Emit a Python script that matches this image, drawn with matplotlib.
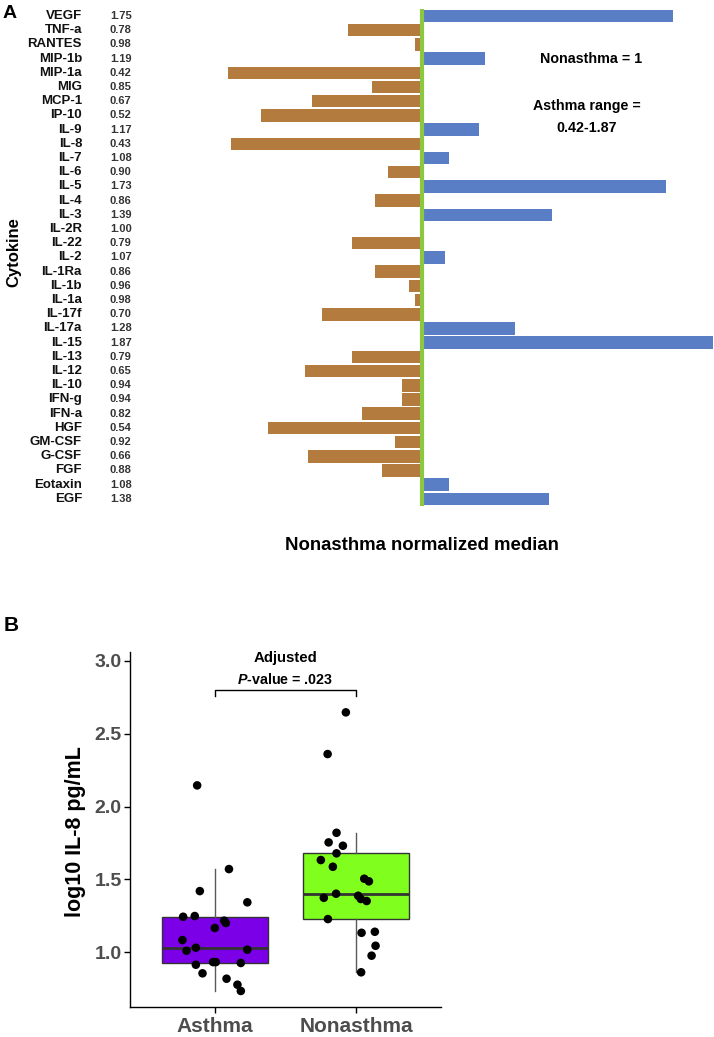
import matplotlib
matplotlib.use('Agg')
import matplotlib.pyplot as plt
import matplotlib.transforms as mtrans
import numpy as np

plt.rcParams['font.family'] = ['Liberation Sans', 'DejaVu Sans']
plt.rcParams['font.weight'] = 'bold'
plt.rcParams['mathtext.fontset'] = 'custom'
plt.rcParams['mathtext.it'] = 'Liberation Sans:italic:bold'
plt.rcParams['mathtext.rm'] = 'Liberation Sans:bold'

# ---- panel A data: asthma / nonasthma normalized medians
cytokines = ['VEGF', 'TNF-a', 'RANTES', 'MIP-1b', 'MIP-1a', 'MIG', 'MCP-1', 'IP-10',
             'IL-9', 'IL-8', 'IL-7', 'IL-6', 'IL-5', 'IL-4', 'IL-3', 'IL-2R', 'IL-22',
             'IL-2', 'IL-1Ra', 'IL-1b', 'IL-1a', 'IL-17f', 'IL-17a', 'IL-15', 'IL-13',
             'IL-12', 'IL-10', 'IFN-g', 'IFN-a', 'HGF', 'GM-CSF', 'G-CSF', 'FGF',
             'Eotaxin', 'EGF']
ratios = [1.75, 0.78, 0.98, 1.19, 0.42, 0.85, 0.67, 0.52, 1.17, 0.43, 1.08, 0.90,
          1.73, 0.86, 1.39, 1.00, 0.79, 1.07, 0.86, 0.96, 0.98, 0.70, 1.28, 1.87,
          0.79, 0.65, 0.94, 0.94, 0.82, 0.54, 0.92, 0.66, 0.88, 1.08, 1.38]

# ---- panel B data: log10 IL-8 (pg/mL), with horizontal jitter
groups = ['Asthma', 'Nonasthma']
asthma = [1.571, 1.42, 1.343, 1.244, 1.249, 1.217, 1.201, 1.167, 1.084, 1.032, 1.011,
          1.018, 0.933, 0.933, 0.915, 0.927, 0.856, 0.819, 0.778, 0.735, 2.145]
asthma_jit = [0.10, -0.106, 0.23, -0.224, -0.142, 0.066, 0.078, 0.0, -0.229, -0.134,
              -0.2, 0.23, -0.012, 0.007, -0.134, 0.184, -0.087, 0.083, 0.16, 0.184, -0.125]
nonasthma = [2.646, 2.36, 1.82, 1.754, 1.731, 1.679, 1.633, 1.587, 1.505, 1.487, 1.374,
             1.402, 1.388, 1.366, 1.352, 1.228, 1.134, 1.141, 1.045, 0.977, 0.863]
nonasthma_jit = [-0.073, -0.202, -0.139, -0.195, -0.094, -0.139, -0.25, -0.165, 0.057,
                 0.09, -0.229, -0.142, 0.014, 0.033, 0.074, -0.2, 0.038, 0.132, 0.137,
                 0.109, 0.035]

W, H = 714, 1037
fig = plt.figure(figsize=(W / 100, H / 100), dpi=100)

def box(l, t, r, b):
    return [l / W, 1 - b / H, (r - l) / W, (b - t) / H]

# ================= panel A =================
axA = fig.add_axes(box(228, 8.9, 712.7, 506))
ypos = np.arange(len(cytokines))
r = np.array(ratios)
cols = ['#5A7EC6' if v > 1 else '#B37B3D' for v in r]
axA.barh(ypos, r - 1, left=1, height=0.88, color=cols, edgecolor='none')
axA.axvline(1, color='#8DC63F', lw=3.0, zorder=3)
axA.set_xlim(0.42, 1.87)
axA.set_ylim(len(cytokines) - 0.5, -0.5)
axA.axis('off')

tr = mtrans.blended_transform_factory(fig.transFigure, axA.transData)
for i, (name, v) in enumerate(zip(cytokines, ratios)):
    axA.text(82 / W, i, name, transform=tr, ha='right', va='center',
             fontsize=9.5, color='#111111', clip_on=False)
    axA.text(110 / W, i, f'{v:.2f}', transform=tr, ha='left', va='center',
             fontsize=8.0, color='#333333', clip_on=False)

fig.text(14 / W, 1 - 252 / H, 'Cytokine', rotation=90, ha='center', va='center',
         fontsize=12)
fig.text(3 / W, 1 - 5 / H, 'A', ha='left', va='top', fontsize=14)
fig.text(421.5 / W, 1 - 546 / H, 'Nonasthma normalized median', ha='center',
         va='center', fontsize=13.4)
fig.text(591 / W, 1 - 59 / H, 'Nonasthma = 1', ha='center', va='center', fontsize=10.3)
fig.text(587 / W, 1 - 106 / H, 'Asthma range =', ha='center', va='center', fontsize=10.3)
fig.text(587 / W, 1 - 127.5 / H, '0.42-1.87', ha='center', va='center', fontsize=10.3)

# ================= panel B =================
axB = fig.add_axes(box(130, 652, 441, 1007))
bp = axB.boxplot([asthma, nonasthma], positions=[1, 2], widths=0.75, whis=1.5,
                 patch_artist=True, showfliers=False, showcaps=False,
                 medianprops=dict(color='#333333', lw=2.0),
                 boxprops=dict(edgecolor='#333333', lw=1.0),
                 whiskerprops=dict(color='#595959', lw=1.0))
for patch, c in zip(bp['boxes'], ['#7B00E8', '#80FF1E']):
    patch.set_facecolor(c)

axB.scatter(1 + np.array(asthma_jit), asthma, s=38, color='black', zorder=4,
            edgecolors='none')
axB.scatter(2 + np.array(nonasthma_jit), nonasthma, s=38, color='black', zorder=4,
            edgecolors='none')

# significance bracket
axB.plot([1, 1, 2, 2], [2.755, 2.8, 2.8, 2.755], color='black', lw=1.0)
axB.text(1.5, 3.02, 'Adjusted', ha='center', va='center', fontsize=10.8)
axB.text(1.5, 2.868, '$P$-value = .023', ha='center', va='center', fontsize=10.3)

axB.set_xlim(0.4, 2.6)
axB.set_ylim(0.625, 3.06)
axB.set_yticks([1.0, 1.5, 2.0, 2.5, 3.0])
axB.set_xticks([1, 2])
axB.set_xticklabels(groups)
for s in ['top', 'right']:
    axB.spines[s].set_visible(False)
for s in ['left', 'bottom']:
    axB.spines[s].set_linewidth(1.0)
axB.tick_params(axis='y', labelsize=14, labelcolor='#4D4D4D', length=4, width=1, pad=2)
axB.tick_params(axis='x', labelsize=15, labelcolor='#4D4D4D', length=4, width=1, pad=3)

fig.text(75 / W, 1 - 832 / H, 'log10 IL-8 pg/mL', rotation=90, ha='center',
         va='center', fontsize=15.5)
fig.text(4 / W, 1 - 616 / H, 'B', ha='left', va='top', fontsize=15)

fig.savefig('out.png', dpi=100)
